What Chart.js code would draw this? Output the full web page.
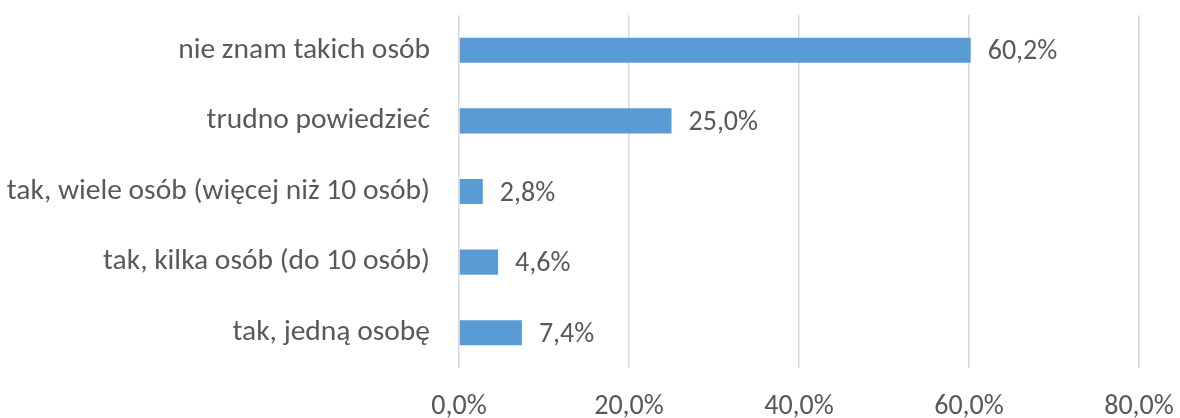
<!DOCTYPE html>
<html>
<head>
<meta charset="utf-8">
<script src="https://cdn.jsdelivr.net/npm/chart.js@4/dist/chart.umd.min.js"></script>
<style>
  html, body { margin: 0; padding: 0; background: #fff; }
  #wrap { width: 1180px; height: 418px; }
</style>
</head>
<body>
<div id="wrap"><canvas id="chart" width="1180" height="418"></canvas></div>
<script>
const categories = [
  'nie znam takich osób',
  'trudno powiedzieć',
  'tak, wiele osób (więcej niż 10 osób)',
  'tak, kilka osób (do 10 osób)',
  'tak, jedną osobę'
];
const values = [60.2, 25.0, 2.8, 4.6, 7.4];
const xTicks = [0, 20, 40, 60, 80];

const fontFamily = 'Carlito, Calibri, Lato, sans-serif';
const fontSize = 28;
const catFontSize = 29.5;
const textColor = '#595959';

const fmt = (v) => v.toFixed(1).replace('.', ',') + '%';

// simple value labels to the right of each bar
const barLabels = {
  id: 'barLabels',
  afterDatasetsDraw(chart) {
    const ctx = chart.ctx;
    const meta = chart.getDatasetMeta(0);
    ctx.save();
    ctx.font = fontSize + 'px ' + fontFamily;
    ctx.fillStyle = textColor;
    ctx.textAlign = 'left';
    ctx.textBaseline = 'middle';
    meta.data.forEach((bar, i) => {
      ctx.fillText(fmt(values[i]), bar.x + 17, bar.y + 2);
    });
    ctx.restore();
  }
};

// drop the automatic label padding, the layout padding does the job
const noAutoPad = (scale) => {
  scale.paddingTop = 0;
  scale.paddingBottom = 0;
  scale.paddingLeft = 0;
  scale.paddingRight = 0;
};

new Chart(document.getElementById('chart'), {
  type: 'bar',
  data: {
    labels: categories,
    datasets: [{
      data: values,
      backgroundColor: '#5B9BD5',
      borderWidth: 0,
      categoryPercentage: 1,
      barPercentage: 0.355
    }]
  },
  options: {
    indexAxis: 'y',
    responsive: false,
    animation: false,
    layout: { padding: { top: 15, right: 41, left: 0, bottom: 0 } },
    plugins: {
      legend: { display: false },
      tooltip: { enabled: false }
    },
    scales: {
      x: {
        min: 0,
        max: 80,
        afterBuildTicks(scale) {
          scale.ticks = xTicks.map(v => ({ value: v }));
        },
        afterFit(scale) { scale.height = 50; noAutoPad(scale); },
        grid: { color: '#d9d9d9', lineWidth: 1.5, drawTicks: false },
        border: { display: false },
        ticks: {
          padding: 22,
          color: textColor,
          font: { family: fontFamily, size: fontSize },
          callback: (v) => fmt(v)
        }
      },
      y: {
        afterFit(scale) { scale.width = 459; noAutoPad(scale); },
        grid: { display: false, drawTicks: false },
        border: { display: false },
        ticks: {
          padding: 29,
          color: textColor,
          font: { family: fontFamily, size: catFontSize }
        }
      }
    }
  },
  plugins: [barLabels]
});
</script>
</body>
</html>
